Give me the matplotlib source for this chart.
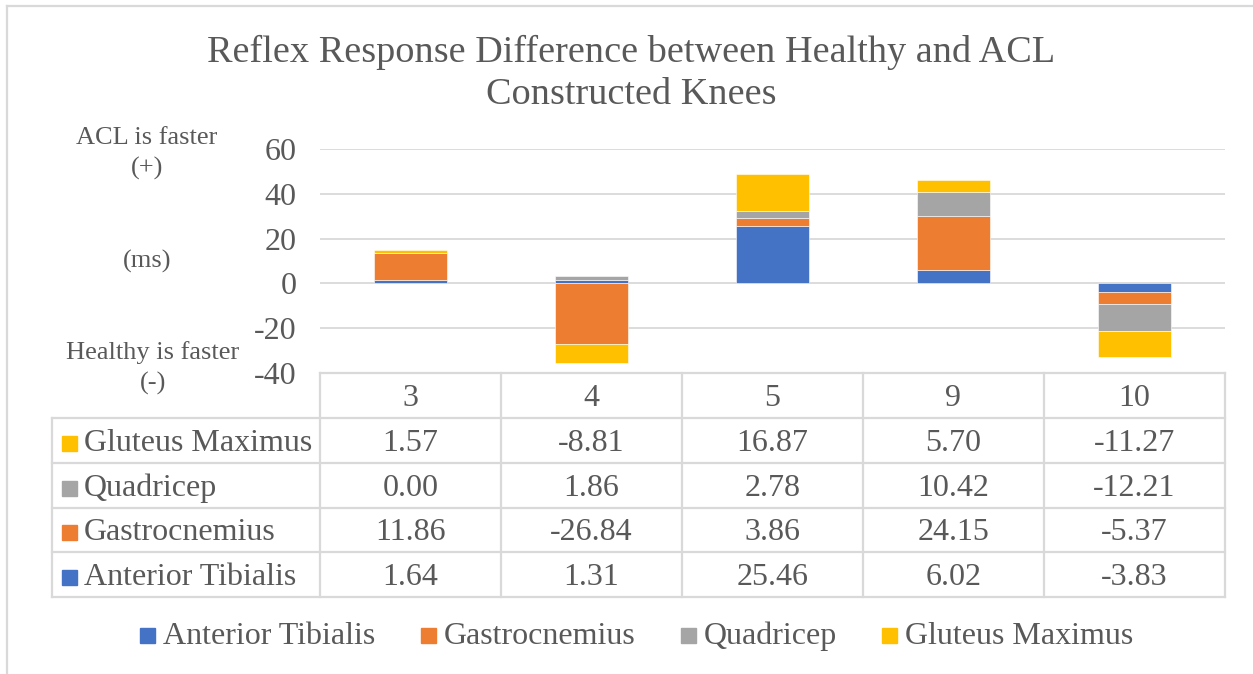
import numpy as np
import matplotlib
matplotlib.use("Agg")
import matplotlib.pyplot as plt
from matplotlib.lines import Line2D
from matplotlib.patches import Rectangle

plt.rcParams['font.family'] = ['Liberation Serif', 'DejaVu Serif']
plt.rcParams['axes.unicode_minus'] = False

# data
subjects = ['3', '4', '5', '9', '10']
muscles = ['Anterior Tibialis', 'Gastrocnemius', 'Quadricep', 'Gluteus Maximus']
anterior = [1.64, 1.31, 25.46, 6.02, -3.83]
gastroc = [11.86, -26.84, 3.86, 24.15, -5.37]
quad = [0.00, 1.86, 2.78, 10.42, -12.21]
gluteus = [1.57, -8.81, 16.87, 5.70, -11.27]
colors = ['#4472C4', '#ED7D31', '#A5A5A5', '#FFC000']
series = [anterior, gastroc, quad, gluteus]

txt = '#595959'
grid = '#D9D9D9'
W, H = 1253, 674
fs = 23

fig = plt.figure(figsize=(W / 100, H / 100), dpi=100)

# plot area in pixel coords
x0, x1, ytop, ybot = 320, 1225, 149, 373
ax = fig.add_axes([x0 / W, 1 - ybot / H, (x1 - x0) / W, (ybot - ytop) / H])
x = np.arange(len(subjects))
pos_base = np.zeros(len(subjects))
neg_base = np.zeros(len(subjects))
for vals, c, name in zip(series, colors, muscles):
    v = np.array(vals)
    base = np.where(v >= 0, pos_base, neg_base)
    ax.bar(x, v, 0.4, bottom=base, color=c, edgecolor='white', linewidth=0.4, label=name, zorder=3)
    pos_base += np.where(v >= 0, v, 0)
    neg_base += np.where(v < 0, v, 0)
ax.set_xlim(-0.5, len(subjects) - 0.5)
ax.set_ylim(-40, 60)
ax.set_yticks([-40, -20, 0, 20, 40, 60])
ax.yaxis.grid(True, color=grid, linewidth=1.3, zorder=0)
ax.set_xticks([])
for s in ax.spines.values():
    s.set_visible(False)
ax.tick_params(axis='y', length=0, pad=17, labelsize=fs, labelcolor=txt)

# overlay axes in pixel coords for table, labels, legend
ov = fig.add_axes([0, 0, 1, 1])
ov.set_xlim(0, W)
ov.set_ylim(H, 0)
ov.axis('off')

# border of chart area
ov.add_line(Line2D([6.5, 6.5], [5.5, H], color=grid, lw=1.6))
ov.add_line(Line2D([6.5, W], [5.5, 5.5], color=grid, lw=1.6))

ov.text(631, 52, 'Reflex Response Difference between Healthy and ACL', ha='center', va='center',
        fontsize=27.5, color=txt)
ov.text(631, 95, 'Constructed Knees', ha='center', va='center', fontsize=27.5, color=txt)

ov.text(147, 138, 'ACL is faster', ha='center', va='center', fontsize=19, color=txt)
ov.text(147, 168, '(+)', ha='center', va='center', fontsize=19, color=txt)
ov.text(147, 261, '(ms)', ha='center', va='center', fontsize=19, color=txt)
ov.text(153, 353, 'Healthy is faster', ha='center', va='center', fontsize=19, color=txt)
ov.text(153, 383, '(-)', ha='center', va='center', fontsize=19, color=txt)

# data table
col_w = (x1 - x0) / len(subjects)
col_edges = [x0 + i * col_w for i in range(len(subjects) + 1)]
row_edges = [373, 418, 463, 508, 552, 597]
tleft = 52
lw = 1.6
ov.add_line(Line2D([x0, x1], [row_edges[0]] * 2, color=grid, lw=lw))
for yy in row_edges[1:]:
    ov.add_line(Line2D([tleft, x1], [yy, yy], color=grid, lw=lw))
for xx in col_edges:
    ov.add_line(Line2D([xx, xx], [row_edges[0], row_edges[-1]], color=grid, lw=lw))
ov.add_line(Line2D([tleft, tleft], [row_edges[1], row_edges[-1]], color=grid, lw=lw))

for i, s in enumerate(subjects):
    ov.text(col_edges[i] + col_w / 2, (row_edges[0] + row_edges[1]) / 2 + 3, s,
            ha='center', va='center', fontsize=fs, color=txt)

for r, k in enumerate([3, 2, 1, 0]):
    yc = (row_edges[r + 1] + row_edges[r + 2]) / 2 + 2
    ov.add_patch(Rectangle((62, yc - 7), 15, 15, color=colors[k]))
    ov.text(84, yc + 1, muscles[k], ha='left', va='center', fontsize=fs, color=txt)
    for i in range(len(subjects)):
        ov.text(col_edges[i] + col_w / 2, yc + 1, f'{series[k][i]:.2f}',
                ha='center', va='center', fontsize=fs, color=txt)

# legend
leg_x = [140, 421, 681, 882]
for k in range(4):
    ov.add_patch(Rectangle((leg_x[k], 628), 15, 15, color=colors[k]))
    ov.text(leg_x[k] + 23, 636, muscles[k], ha='left', va='center', fontsize=fs, color=txt)

fig.savefig('out.png', dpi=100)
